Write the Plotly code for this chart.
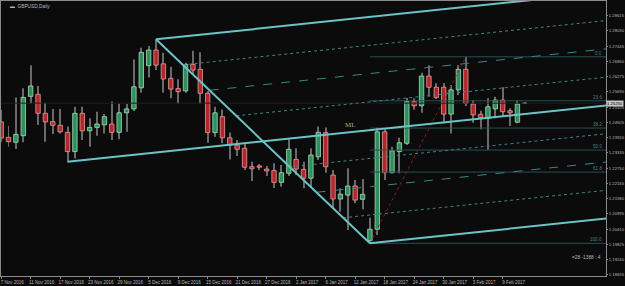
import plotly.graph_objects as go
import pandas as pd

# ---- data (GBPUSD daily) ----
dates = pd.bdate_range("2016-11-07", "2017-02-14")
opens = [1.2453, 1.2394, 1.2375, 1.2400, 1.2551, 1.2559, 1.2486, 1.2454, 1.2440, 1.2413,
         1.2339, 1.2486, 1.2419, 1.2432, 1.2442, 1.2445, 1.2413, 1.2488, 1.2503, 1.2584,
         1.2669, 1.2729, 1.2676, 1.2620, 1.2581, 1.2572, 1.2674, 1.2655, 1.2563, 1.2412,
         1.2473, 1.2392, 1.2364, 1.2352, 1.2281, 1.2284, 1.2272, 1.2266, 1.2221, 1.2256,
         1.2309, 1.2271, 1.2237, 1.2319, 1.2412, 1.2249, 1.2157, 1.2172, 1.2207, 1.2156,
         1.1997, 1.2041, 1.2415, 1.2258, 1.2339, 1.2371, 1.2531, 1.2515, 1.2629, 1.2586,
         1.2586, 1.2483, 1.2576, 1.2655, 1.2522, 1.2482, 1.2467, 1.2503, 1.2537, 1.2496,
         1.2452, 1.2524]
closes = [1.2391, 1.2377, 1.2405, 1.2547, 1.2591, 1.2486, 1.2453, 1.2440, 1.2415, 1.2339,
          1.2486, 1.2419, 1.2432, 1.2445, 1.2473, 1.2413, 1.2488, 1.2503, 1.2588, 1.2720,
          1.2729, 1.2671, 1.2618, 1.2579, 1.2569, 1.2674, 1.2652, 1.2563, 1.2412, 1.2488,
          1.2392, 1.2364, 1.2348, 1.2279, 1.2273, 1.2279, 1.2265, 1.2221, 1.2258, 1.2348,
          1.2272, 1.2237, 1.2326, 1.2413, 1.2281, 1.2157, 1.2176, 1.2207, 1.2153, 1.2175,
          1.2041, 1.2415, 1.2258, 1.2342, 1.2373, 1.2531, 1.2515, 1.2629, 1.2586, 1.2547,
          1.2483, 1.2576, 1.2655, 1.2524, 1.2480, 1.2469, 1.2511, 1.2537, 1.2492, 1.2488,
          1.2522, 1.2525]
highs = [1.2499, 1.2437, 1.2547, 1.2582, 1.2671, 1.2591, 1.2527, 1.2503, 1.2503, 1.2435,
         1.2511, 1.2511, 1.2467, 1.2492, 1.2483, 1.2531, 1.2524, 1.2522, 1.2693, 1.2738,
         1.2744, 1.2770, 1.2719, 1.2665, 1.2617, 1.2680, 1.2726, 1.2720, 1.2572, 1.2511,
         1.2501, 1.2412, 1.2384, 1.2371, 1.2300, 1.2291, 1.2284, 1.2294, 1.2288, 1.2386,
         1.2352, 1.2300, 1.2352, 1.2435, 1.2432, 1.2268, 1.2198, 1.2275, 1.2230, 1.2234,
         1.2085, 1.2431, 1.2425, 1.2358, 1.2392, 1.2545, 1.2544, 1.2642, 1.2671, 1.2601,
         1.2602, 1.2595, 1.2671, 1.2703, 1.2537, 1.2496, 1.2544, 1.2550, 1.2586, 1.2505,
         1.2537, 1.2527]
lows = [1.2376, 1.2358, 1.2349, 1.2375, 1.2524, 1.2441, 1.2377, 1.2407, 1.2409, 1.2300,
        1.2313, 1.2384, 1.2358, 1.2400, 1.2409, 1.2384, 1.2386, 1.2415, 1.2495, 1.2565,
        1.2624, 1.2652, 1.2565, 1.2544, 1.2524, 1.2565, 1.2633, 1.2524, 1.2373, 1.2396,
        1.2371, 1.2309, 1.2322, 1.2268, 1.2226, 1.2268, 1.2245, 1.2199, 1.2204, 1.2245,
        1.2249, 1.2198, 1.2199, 1.2307, 1.2258, 1.2121, 1.2108, 1.2038, 1.2141, 1.2118,
        1.1987, 1.2019, 1.2230, 1.2256, 1.2256, 1.2364, 1.2500, 1.2488, 1.2550, 1.2541,
        1.2448, 1.2409, 1.2556, 1.2514, 1.2450, 1.2425, 1.2345, 1.2467, 1.2473, 1.2437,
        1.2448, 1.2522]

# pitchfork anchors (bar index, price): pivot 1 = 18 Nov low, 2 = 6 Dec high, 3 = 16 Jan low
pf_b = (9, 1.2300)
pf_a = (21, 1.2770)
pf_c = (50, 1.1987)
# fibonacci retracement: 16 Jan low -> 2 Feb high
fib_lo = (50, 1.1987)
fib_hi = (63, 1.2703)
fib_levels = [0.0, 23.6, 38.2, 50.0, 61.8, 100.0]
bid = 1.2525

ytick_text = ["1.28615", "1.28030", "1.27445", "1.26860", "1.26275", "1.25690", "1.25105",
              "1.24505", "1.23920", "1.23335", "1.22750", "1.22165", "1.21580", "1.20995",
              "1.20410", "1.19825", "1.19240", "1.18655"]
xtick_idx = list(range(0, 69, 4))

# ---- styles ----
BG = "#0b0b0b"
TXT = "#b8b8b8"
FRAME = "#8a8a8a"
UP_FILL, UP_LINE = "#2f8f5c", "#a6dcb8"
DN_FILL, DN_LINE = "#b3272c", "#e79a9a"
WICK = "#6a6a6a"
PF = "#6cc3c7"
PF_DIM = "#3f8287"
FIB = "#274f52"
FIB_TXT = "#4e8084"
FONT = "Liberation Sans"

n = len(opens)
xi = list(range(n))
X_END = 82.01
fig = go.Figure()

# bid line
fig.add_trace(go.Scatter(x=[-1, X_END + 1], y=[bid, bid], mode="lines",
                         line=dict(color="#1f1f1f", width=1), hoverinfo="skip"))

# fibonacci levels
rng = fib_hi[1] - fib_lo[1]
for lv in fib_levels:
    p = fib_hi[1] - rng * lv / 100.0
    fig.add_trace(go.Scatter(x=[fib_lo[0], X_END + 1], y=[p, p], mode="lines",
                             line=dict(color=FIB, width=1), hoverinfo="skip"))
    fig.add_annotation(x=81.7, y=p, text=f"{lv:.1f}", showarrow=False, xanchor="right",
                       yanchor="bottom", yshift=-1, font=dict(size=4.6, color=FIB_TXT,
                                                          family=FONT))
fig.add_trace(go.Scatter(x=[fib_lo[0], fib_hi[0]], y=[fib_lo[1], fib_hi[1]], mode="lines",
                         line=dict(color="#8a1c1c", width=1, dash="dot"), hoverinfo="skip"))

# pitchfork
mid = ((pf_a[0] + pf_c[0]) / 2, (pf_a[1] + pf_c[1]) / 2)
slope = (mid[1] - pf_b[1]) / (mid[0] - pf_b[0])
XE = 95
def ray(x0, y0, **ln):
    fig.add_trace(go.Scatter(x=[x0, XE], y=[y0, y0 + slope * (XE - x0)], mode="lines",
                             line=ln, hoverinfo="skip"))

for f in (-0.75, -0.5, -0.25, 0.25, 0.5, 0.75):
    sx = mid[0] + f * (pf_c[0] - mid[0])
    sy = mid[1] + f * (pf_c[1] - mid[1])
    ray(sx, sy, color=PF_DIM, width=1, dash="dash" if abs(f) == 0.5 else "dot")

# wicks
fig.add_trace(go.Bar(x=xi, y=[h - l for h, l in zip(highs, lows)], base=lows, width=0.13,
                     marker=dict(color=WICK, line=dict(width=0)), hoverinfo="skip"))
# bodies
for up in (True, False):
    idx = [i for i in xi if (closes[i] >= opens[i]) == up]
    fig.add_trace(go.Bar(
        x=idx,
        y=[max(abs(closes[i] - opens[i]), 0.00008) for i in idx],
        base=[min(opens[i], closes[i]) for i in idx],
        width=0.6,
        marker=dict(color=UP_FILL if up else DN_FILL,
                    line=dict(color=UP_LINE if up else DN_LINE, width=0.8)),
        hoverinfo="skip"))

ray(pf_b[0], pf_b[1], color=PF, width=2)
ray(pf_a[0], pf_a[1], color=PF, width=2)
ray(pf_c[0], pf_c[1], color=PF, width=2)
fig.add_trace(go.Scatter(x=[pf_a[0], pf_c[0]], y=[pf_a[1], pf_c[1]], mode="lines",
                         line=dict(color=PF, width=2), hoverinfo="skip"))
fig.add_annotation(x=47.4, y=1.2441, text="ML", showarrow=False,
                   font=dict(size=7, color="#8fb7b9", family="Liberation Serif"))

# labels
fig.add_annotation(xref="paper", yref="paper", x=0.012, y=0.995, xanchor="left", yanchor="top",
                   text="▬  GBPUSD,Daily", showarrow=False,
                   font=dict(size=4.8, color=TXT, family=FONT))
fig.add_annotation(xref="paper", yref="paper", x=0.995, y=0.05, xanchor="right", yanchor="bottom",
                   text="=28 -1388 : 4", showarrow=False,
                   font=dict(size=4.8, color=TXT, family=FONT))
fig.add_annotation(xref="paper", yref="y", x=1.0, y=bid, xanchor="left", yanchor="middle",
                   text="1.25250", showarrow=False, bgcolor="#c8c8c8", borderpad=0,
                   font=dict(size=4.2, color="#000000", family=FONT))

y_lo, y_hi = 1.18615, 1.29172
tv = [1.28615 - k * (1.28615 - 1.18655) / 17 for k in range(18)]
fig.update_layout(
    width=625, height=286, margin=dict(l=1, r=19, t=1, b=10, autoexpand=False),
    paper_bgcolor=BG, plot_bgcolor=BG, showlegend=False, barmode="overlay",
    xaxis=dict(range=[-0.02, X_END], showgrid=False, zeroline=False, automargin=False,
               tickmode="array", tickvals=xtick_idx, tickangle=0,
               ticktext=[f"{dates[i].day} {dates[i].strftime('%b %Y')}" for i in xtick_idx],
               ticks="outside", ticklen=2, tickcolor=FRAME, ticklabelshift=11,
               ticklabelstandoff=0,
               tickfont=dict(size=4.5, color=TXT, family=FONT),
               showline=True, linecolor=FRAME, linewidth=1, mirror=True),
    yaxis=dict(range=[y_lo, y_hi], side="right", showgrid=False, zeroline=False,
               automargin=False,
               tickmode="array", tickvals=tv, ticktext=ytick_text,
               ticks="outside", ticklen=1, tickcolor=FRAME, ticklabelstandoff=0,
               tickfont=dict(size=4.2, color=TXT, family=FONT),
               showline=True, linecolor=FRAME, linewidth=1, mirror=True),
)
fig.write_html("out.html")
